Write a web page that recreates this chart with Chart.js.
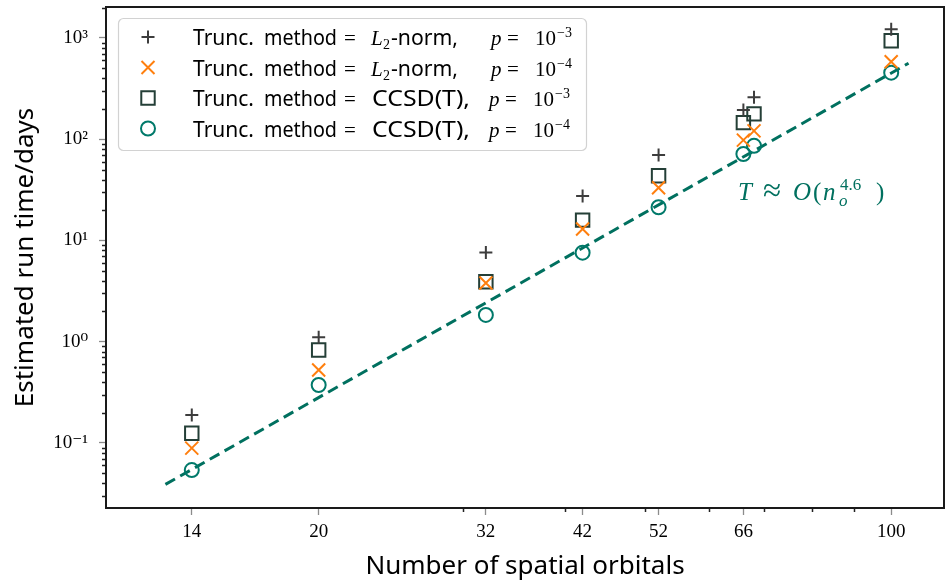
<!DOCTYPE html>
<html>
<head>
<meta charset="utf-8">
<script src="https://cdn.jsdelivr.net/npm/chart.js@4.4.1/dist/chart.umd.min.js"></script>
<style>
  html, body { margin: 0; padding: 0; background: #fff; }
  #wrap { width: 945px; height: 582px; position: relative; }
</style>
</head>
<body>
<div id="wrap"><canvas id="chart"></canvas></div>
<script>
// Number of spatial orbitals
const orbitals = [14, 20, 32, 42, 52, 66, 68, 100];

// Estimated run time (days) for each truncation method / threshold
const l2NormP3 = [0.189, 1.11, 7.59, 27.5, 69.9, 194, 260, 1218];
const l2NormP4 = [0.089, 0.526, 3.80, 13.0, 33.2, 98, 121, 583];
const ccsdP3 = [0.125, 0.83, 3.92, 15.9, 43.5, 146, 178, 940];
const ccsdP4 = [0.054, 0.374, 1.84, 7.58, 21.3, 71.5, 86, 454];

// Power-law fit T ~ n^4.6 (end points only, straight in log-log)
const fitOrbitals = [13, 105];
const fitDays = [0.039, 563];

// Tick labels
const xTickValues = [14, 20, 32, 42, 52, 66, 100];
const xTickLabels = ['14', '20', '32', '42', '52', '66', '100'];
const xMinorTicks = [30, 40, 50, 60, 70, 80, 90];
const yTickValues = [0.1, 1, 10, 100, 1000];
const yTickLabels = ['10⁻¹', '10⁰', '10¹', '10²', '10³'];

// Where the fit annotation sits (data coordinates)
const annotationAt = { x: 65, y: 25 };

const SANS = '"Noto Sans", "DejaVu Sans", sans-serif';
const SERIF = '"Liberation Serif", "DejaVu Serif", serif';

const colPlus = '#3d3d3d';
const colCross = '#ff7f0e';
const colSquare = '#243f37';
const colCircle = '#00796a';
const colFit = '#00705f';

function points(ys) {
    return orbitals.map((n, i) => ({ x: n, y: ys[i] }));
}

// minor log ticks for the y axis
const yMinorTicks = [];
for (let e = -2; e <= 3; e++) {
    for (let m = 2; m <= 9; m++) {
        yMinorTicks.push(m * Math.pow(10, e));
    }
}

function drawMarker(ctx, style, x, y, r, color, lw) {
    ctx.save();
    ctx.strokeStyle = color;
    ctx.lineWidth = lw;
    ctx.beginPath();
    if (style === 'cross') {
        ctx.moveTo(x - r, y); ctx.lineTo(x + r, y);
        ctx.moveTo(x, y - r); ctx.lineTo(x, y + r);
    } else if (style === 'crossRot') {
        const d = r * Math.SQRT1_2;
        ctx.moveTo(x - d, y - d); ctx.lineTo(x + d, y + d);
        ctx.moveTo(x - d, y + d); ctx.lineTo(x + d, y - d);
    } else if (style === 'rect') {
        const s = r * Math.SQRT1_2;
        ctx.rect(x - s, y - s, 2 * s, 2 * s);
    } else {
        ctx.arc(x, y, r, 0, Math.PI * 2);
    }
    ctx.stroke();
    ctx.restore();
}

function txt(ctx, s, x, y, font, color) {
    ctx.font = font;
    ctx.fillStyle = color || '#000';
    ctx.fillText(s, x, y);
}

// text squeezed/stretched to a given width (the reference uses a narrow sans)
function txtFit(ctx, s, x, y, font, width, color) {
    ctx.save();
    ctx.font = font;
    ctx.fillStyle = color || '#000';
    const w = ctx.measureText(s).width;
    ctx.translate(x, y);
    ctx.scale(width / w, 1);
    ctx.fillText(s, 0, 0);
    ctx.restore();
}

// Frame + minor ticks
const framePlugin = {
    id: 'frame',
    afterDraw(chart) {
        const { ctx, chartArea: a, scales } = chart;
        ctx.save();
        ctx.strokeStyle = '#222';
        ctx.lineWidth = 1.5;
        ctx.beginPath();
        yMinorTicks.forEach(v => {
            if (v < scales.y.min || v > scales.y.max) return;
            const py = Math.round(scales.y.getPixelForValue(v)) + 0.5;
            ctx.moveTo(a.left - 4, py); ctx.lineTo(a.left, py);
        });
        xMinorTicks.forEach(v => {
            const px = Math.round(scales.x.getPixelForValue(v)) + 0.5;
            ctx.moveTo(px, a.bottom); ctx.lineTo(px, a.bottom + 4);
        });
        ctx.stroke();
        ctx.strokeStyle = '#1a1a1a';
        ctx.lineWidth = 2;
        ctx.strokeRect(a.left, a.top, a.right - a.left, a.bottom - a.top);
        ctx.restore();
    }
};

// Fit annotation
const annotationPlugin = {
    id: 'fitNote',
    afterDraw(chart) {
        const ctx = chart.ctx;
        const px = chart.scales.x.getPixelForValue(annotationAt.x);
        const py = chart.scales.y.getPixelForValue(annotationAt.y);
        ctx.save();
        ctx.textBaseline = 'alphabetic';
        const big = 'italic 25px ' + SERIF;
        const up = '25px ' + SERIF;
        const small = '17px ' + SERIF;
        txt(ctx, 'T', px, py, big, colFit);
        txt(ctx, '≈', px + 25, py + 1, '33px ' + SERIF, colFit);
        txt(ctx, 'O', px + 55, py, big, colFit);
        txt(ctx, '(', px + 75, py, up, colFit);
        txt(ctx, 'n', px + 85, py, big, colFit);
        txt(ctx, '4.6', px + 102, py - 10, small, colFit);
        txt(ctx, 'o', px + 101, py + 6, 'italic 17px ' + SERIF, colFit);
        txt(ctx, ')', px + 138, py, up, colFit);
        ctx.restore();
    }
};

// Legend with mixed text / math segments
const legendPlugin = {
    id: 'mathLegend',
    afterDraw(chart) {
        const ctx = chart.ctx;
        ctx.save();
        ctx.beginPath();
        ctx.roundRect(118.5, 18.5, 468, 132, 5);
        ctx.fillStyle = 'rgba(255,255,255,0.85)';
        ctx.fill();
        ctx.strokeStyle = '#d2d2d2';
        ctx.lineWidth = 1.2;
        ctx.stroke();

        const rowY = [37, 67.5, 98, 128.5];
        const sans = '21px ' + SANS;
        const serif = '21px ' + SERIF;
        const iserif = 'italic 21px ' + SERIF;
        const sub = '14px ' + SERIF;
        ctx.textBaseline = 'alphabetic';
        for (let i = 0; i < 4; i++) {
            const ds = chart.data.datasets[i];
            const y = rowY[i];
            const b = y + 8;
            drawMarker(ctx, ds.pointStyle, 148, y, ds.pointRadius, ds.pointBorderColor, ds.pointBorderWidth);
            txtFit(ctx, 'Trunc.', 193, b, sans, 61);
            txtFit(ctx, 'method', 264, b, sans, 73);
            txt(ctx, '=', 344, b, serif);
            if (i < 2) {
                txt(ctx, 'L', 371, b, iserif);
                txt(ctx, '2', 383, b + 4, sub);
                txtFit(ctx, '-norm,', 391, b, sans, 67);
            } else {
                txtFit(ctx, 'CCSD(T),', 372, b, sans, 98);
            }
            const pe = i % 2 === 0 ? '−3' : '−4';
            const px = i < 2 ? 491 : 489;
            txt(ctx, 'p', px, b, iserif);
            txt(ctx, '=', px + 16, b, serif);
            txt(ctx, '10', px + 44, b, serif);
            txt(ctx, pe, px + 66, b - 8, sub);
        }
        ctx.restore();
    }
};

function scatterSet(label, ys, style, radius, color) {
    return {
        label: label,
        data: points(ys),
        showLine: false,
        pointStyle: style,
        pointRadius: radius,
        pointBorderColor: color,
        pointBackgroundColor: 'rgba(0,0,0,0)',
        pointBorderWidth: 2,
        borderColor: color,
        backgroundColor: 'rgba(0,0,0,0)'
    };
}

const ctx = document.getElementById('chart').getContext('2d');
const chart = new Chart(ctx, {
    type: 'scatter',
    data: {
        datasets: [
            scatterSet('Trunc. method = L2-norm, p = 10^-3', l2NormP3, 'cross', 6.5, colPlus),
            scatterSet('Trunc. method = L2-norm, p = 10^-4', l2NormP4, 'crossRot', 9.2, colCross),
            scatterSet('Trunc. method = CCSD(T), p = 10^-3', ccsdP3, 'rect', 9.5, colSquare),
            scatterSet('Trunc. method = CCSD(T), p = 10^-4', ccsdP4, 'circle', 7, colCircle),
            {
                label: 'fit',
                data: fitOrbitals.map((n, i) => ({ x: n, y: fitDays[i] })),
                showLine: true,
                pointRadius: 0,
                borderColor: colFit,
                borderWidth: 3,
                borderDash: [11, 6],
                fill: false
            }
        ]
    },
    options: {
        responsive: true,
        maintainAspectRatio: false,
        animation: false,
        devicePixelRatio: 1,
        events: [],
        layout: { autoPadding: false, padding: { top: 7, right: 1, left: 0, bottom: 0 } },
        plugins: {
            legend: { display: false },
            tooltip: { enabled: false }
        },
        scales: {
            x: {
                type: 'logarithmic',
                min: 11,
                max: 116,
                afterBuildTicks: s => { s.ticks = xTickValues.map(v => ({ value: v })); },
                afterFit: s => { s.height = 74; s.paddingLeft = 0; s.paddingRight = 0; },
                ticks: {
                    autoSkip: false,
                    maxRotation: 0,
                    padding: 6,
                    color: '#000',
                    font: { family: SERIF, size: 19 },
                    callback: (v, i) => xTickLabels[i]
                },
                grid: { drawOnChartArea: false, drawTicks: true, tickLength: 7, tickColor: '#8c8c8c', tickWidth: 1.3 },
                border: { display: false },
                title: {
                    display: true,
                    text: 'Number of spatial orbitals',
                    color: '#000',
                    font: { family: SANS, size: 26 },
                    padding: { top: 0, bottom: 0 }
                }
            },
            y: {
                type: 'logarithmic',
                min: 0.0228,
                max: 2023,
                afterBuildTicks: s => { s.ticks = yTickValues.map(v => ({ value: v })); },
                afterFit: s => { s.width = 106; s.paddingTop = 0; s.paddingBottom = 0; },
                ticks: {
                    padding: 11,
                    color: '#000',
                    font: { family: SERIF, size: 19 },
                    callback: (v, i) => yTickLabels[i]
                },
                grid: { drawOnChartArea: false, drawTicks: true, tickLength: 7, tickColor: '#8c8c8c', tickWidth: 1.3 },
                border: { display: false },
                title: {
                    display: true,
                    text: 'Estimated run time/days',
                    color: '#000',
                    font: { family: SANS, size: 26 },
                    padding: { top: 10, bottom: 0 }
                }
            }
        }
    },
    plugins: [framePlugin, annotationPlugin, legendPlugin]
});
</script>
</body>
</html>
